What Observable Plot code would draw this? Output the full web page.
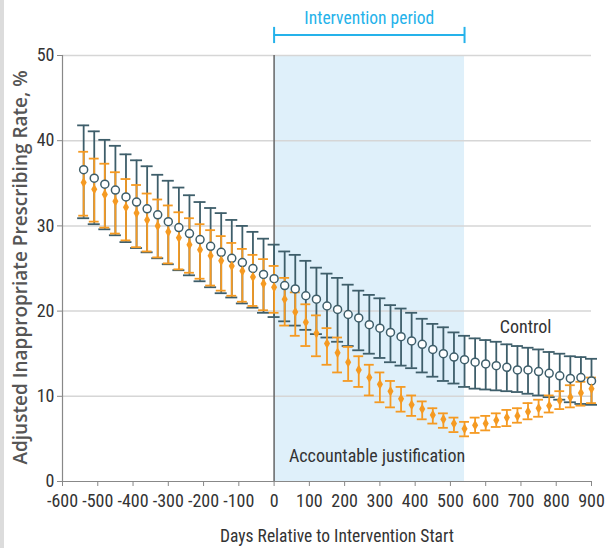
<!DOCTYPE html>
<html><head><meta charset="utf-8">
<script src="https://cdn.jsdelivr.net/npm/d3@7"></script>
<script src="https://cdn.jsdelivr.net/npm/@observablehq/plot@0.6"></script>
<style>
body{margin:0;background:#fff;}
#strip{position:absolute;left:0;top:0;width:4px;height:548px;background:#dcdcdc;}
#chart{position:absolute;left:0;top:0;}
</style></head><body><div id="strip"></div><div id="chart"></div>
<script>
// ---- data ----
const days = [-540,-510,-480,-450,-420,-390,-360,-330,-300,-270,-240,-210,-180,-150,-120,-90,-60,-30,0,30,60,90,120,150,180,210,240,270,300,330,360,390,420,450,480,510,540,570,600,630,660,690,720,750,780,810,840,870,900];
const controlRate = [36.6,35.6,34.9,34.2,33.4,32.8,32.0,31.3,30.5,29.8,29.1,28.4,27.6,26.9,26.2,25.7,25.0,24.3,23.8,23.0,22.6,21.8,21.4,20.6,20.2,19.6,19.2,18.4,18.0,17.5,17.0,16.5,16.1,15.5,15.0,14.6,14.3,14.0,13.8,13.6,13.4,13.1,13.1,12.9,12.7,12.4,12.1,12.2,11.8];
const controlUpper = [41.8,41.1,40.1,39.4,38.4,37.7,37.0,36.0,35.3,34.5,33.6,32.8,32.1,31.5,30.7,30.0,29.3,28.5,27.8,27.0,26.6,25.9,25.1,24.4,23.9,23.1,22.4,21.9,21.5,20.7,20.3,19.8,19.1,18.5,18.1,17.5,17.1,16.8,16.6,16.4,16.1,15.9,15.7,15.5,15.2,15.0,14.7,14.6,14.4];
const controlLower = [30.9,30.2,29.6,28.9,28.1,27.4,26.9,26.2,25.5,24.8,24.2,23.5,22.8,22.1,21.6,20.9,20.4,19.8,19.3,18.8,18.3,17.8,17.3,16.9,16.4,15.9,15.4,15.0,14.5,14.0,13.6,13.3,12.8,12.3,11.8,11.5,11.1,10.9,10.8,10.7,10.6,10.5,10.3,10.1,9.9,9.6,9.3,9.1,9.0];
const justRate = [35.1,34.3,33.7,32.9,32.2,31.5,30.7,30.0,29.3,28.6,27.8,27.2,26.5,25.9,25.3,24.7,24.0,23.2,22.8,21.4,19.9,18.7,17.4,16.2,15.1,14.0,13.1,12.2,11.4,10.6,9.7,9.0,8.5,7.8,7.3,6.8,6.2,6.6,6.8,7.2,7.5,7.7,8.2,8.6,8.9,9.5,9.9,10.4,10.9];
const justUpper = [38.7,37.9,37.3,36.3,35.5,34.8,33.8,33.1,32.4,31.6,30.9,30.2,29.5,28.8,28.0,27.3,26.6,26.1,25.3,23.9,22.2,20.8,19.5,18.0,16.9,15.8,14.7,13.7,12.8,11.8,11.1,10.1,9.4,8.6,8.0,7.5,7.0,7.5,7.7,8.0,8.4,8.6,9.2,9.6,10.1,10.6,11.3,11.7,12.2];
const justLower = [31.2,30.5,29.8,29.1,28.3,27.5,27.0,26.3,25.6,24.9,24.5,23.8,23.0,22.4,21.8,21.1,20.6,20.1,19.8,18.3,17.1,15.9,14.7,13.7,12.8,11.8,11.1,10.1,9.3,8.7,8.2,7.7,7.3,6.8,6.3,5.8,5.3,5.7,6.0,6.4,6.5,6.9,7.3,7.6,8.1,8.5,8.7,8.9,9.2];
const xTicks = [-600,-500,-400,-300,-200,-100,0,100,200,300,400,500,600,700,800,900];
const yTicks = [0,10,20,30,40,50];
const periodStart = [0];
const periodEnd = [540];
const periodLabel = "Intervention period";
const seriesLabels = ["Control","Accountable justification"];
const xTitle = "Days Relative to Intervention Start";
const yTitle = "Adjusted Inappropriate Prescribing Rate, %";

// ---- build ----
const rows = days.map((d,i)=>({day:d, c:controlRate[i], cu:controlUpper[i], cl:controlLower[i], j:justRate[i], ju:justUpper[i], jl:justLower[i]}));
const period = periodStart.map((s,i)=>({x1:s, x2:periodEnd[i]}));
const COND = '"Roboto Condensed","Open Sans Condensed",sans-serif';
const DARK = "#3e5e6a";
const ORANGE = "#f59a22";
const BLUE = "#25b2ea";
const capC = 17, capJ = 14; // half cap width in days

const plot = Plot.plot({
  width: 608, height: 548,
  marginTop: 55, marginBottom: 67, marginLeft: 62, marginRight: 17,
  style: {fontFamily: COND, fontSize: "18px", color: "#333", overflow: "visible", background: "transparent"},
  x: {domain: [-600, 900]},
  y: {domain: [0, 50]},
  marks: [
    Plot.rect(period, {x1: "x1", x2: "x2", y1: 0, y2: 50, fill: "#dff0fa"}),
    Plot.ruleY(yTicks.filter(v => v > 0), {stroke: "#d6d6d6", strokeWidth: 1.5}),
    Plot.ruleX(periodStart, {stroke: "#666", strokeWidth: 1.5}),
    Plot.ruleX([-600], {stroke: "#888", strokeWidth: 1.2}),
    Plot.ruleY([0], {stroke: "#888", strokeWidth: 1.2}),
    Plot.axisY({ticks: yTicks, tickSize: 5, tickPadding: 3, label: null, stroke: "#888", fill: "#333", fontSize: 18}),
    Plot.axisX({ticks: xTicks, tickSize: 5, tickPadding: 8, tickFormat: d => String(d), label: null, stroke: "#888", fill: "#333", fontSize: 18}),
    // control error bars
    Plot.ruleX(rows, {x: "day", y1: "cl", y2: "cu", stroke: DARK, strokeWidth: 1.8}),
    Plot.ruleY(rows, {y: "cu", x1: d => d.day - capC, x2: d => d.day + capC, stroke: DARK, strokeWidth: 1.8}),
    Plot.ruleY(rows, {y: "cl", x1: d => d.day - capC, x2: d => d.day + capC, stroke: DARK, strokeWidth: 1.8}),
    // justification error bars
    Plot.ruleX(rows, {x: "day", y1: "jl", y2: "ju", stroke: ORANGE, strokeWidth: 1.8}),
    Plot.ruleY(rows, {y: "ju", x1: d => d.day - capJ, x2: d => d.day + capJ, stroke: ORANGE, strokeWidth: 1.8}),
    Plot.ruleY(rows, {y: "jl", x1: d => d.day - capJ, x2: d => d.day + capJ, stroke: ORANGE, strokeWidth: 1.8}),
    // points
    Plot.dot(rows, {x: "day", y: "c", r: 4, fill: "white", stroke: DARK, strokeWidth: 1.5}),
    Plot.dot(rows, {x: "day", y: "j", r: 3.2, symbol: "diamond", fill: ORANGE, stroke: "none"}),
    // labels
    Plot.text([seriesLabels[0]], {x: 713, y: 18.1, fill: "#333", fontSize: 18}),
    Plot.text([seriesLabels[1]], {x: 292, y: 3.0, fill: "#333", fontSize: 18}),
    // intervention bracket
    Plot.ruleY([52.4], {x1: periodStart[0], x2: periodEnd[0], stroke: BLUE, strokeWidth: 2}),
    Plot.ruleX([...periodStart, ...periodEnd], {y1: 51.4, y2: 53.3, stroke: BLUE, strokeWidth: 2}),
    Plot.text([periodLabel], {x: (periodStart[0] + periodEnd[0]) / 2, y: 54.4, fill: BLUE, fontSize: 17.5}),
    // axis titles
    Plot.text([xTitle], {frameAnchor: "bottom", lineAnchor: "middle", dx: 10, dy: 55, fill: "#333", fontSize: 17.5}),
    Plot.text([yTitle], {frameAnchor: "left", textAnchor: "middle", lineAnchor: "middle", dx: -42, dy: -1, rotate: -90, fill: "#555", fontSize: 19, fontWeight: 600, fontFamily: '"Open Sans",sans-serif'})
  ]
});
document.getElementById("chart").appendChild(plot);
</script></body></html>
